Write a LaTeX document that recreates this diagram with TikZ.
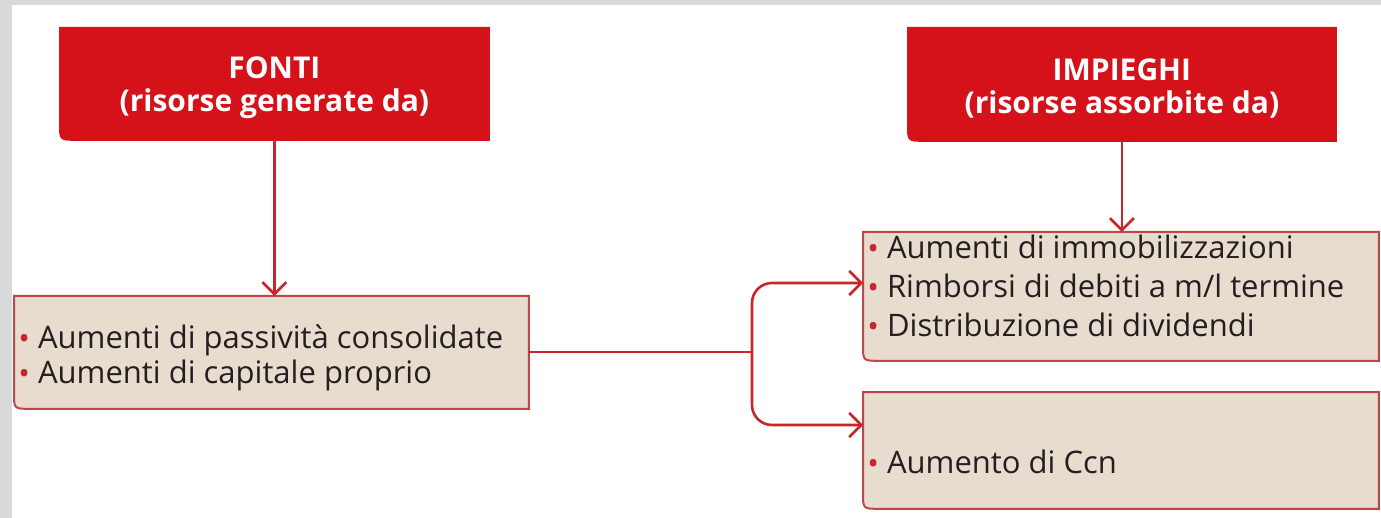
\documentclass[tikz,border=0pt]{standalone}
\usepackage{fontspec}
\setmainfont{Open Sans}
\usetikzlibrary{arrows.meta,backgrounds,calc}
\definecolor{hdr}{HTML}{D51219}
\definecolor{boxfill}{HTML}{E8DCCF}
\definecolor{boxline}{HTML}{BF4548}
\definecolor{connc}{HTML}{C8262C}
\definecolor{txt}{HTML}{231F20}
\definecolor{framec}{HTML}{D9D9D9}
\newcommand\bul{{\color{connc}\raisebox{-0.6pt}{\textbullet}}\hspace{4pt}}
\newcommand\blshape[3]{%
  \path[fill=#2,draw=#3,line width=1pt]
    (#1.north west) -- ($(#1.south west)+(0pt,8pt)$)
    .. controls (#1.south west) .. ($(#1.south west)+(8pt,0pt)$)
    -- (#1.south east) -- (#1.north east) -- cycle;}
\tikzset{
  boxshape/.style={anchor=north west, inner sep=0pt, draw=none},
  headtext/.style={text=white, font=\bfseries\fontsize{15}{16.5}\selectfont, align=center},
  itemtext/.style={text=txt, font=\fontsize{15.5}{17.5}\selectfont, align=left, inner sep=0pt},
  conn/.style={draw=connc, line width=1.3pt},
  arr/.style={conn, -{Straight Barb[length=6pt,width=12pt,line width=1.3pt]}}
}
\begin{document}
\begin{tikzpicture}[x=0.5pt,y=-0.5pt]
\useasboundingbox (0,0) rectangle (1381,518);
\fill[framec] (0,0) rectangle (1381,518);
\fill[white] (12,5) rectangle (1381,518);

\node[boxshape, minimum width=214pt, minimum height=55.5pt] (fonti) at (60,28) {};
\node[boxshape, minimum width=213.5pt, minimum height=56pt] (impieghi) at (908,28) {};
\node[boxshape, minimum width=257pt, minimum height=56pt] (lb) at (14,296) {};
\node[boxshape, minimum width=257.5pt, minimum height=64pt] (ru) at (863,232) {};
\node[boxshape, minimum width=257.5pt, minimum height=58pt] (rl) at (863,392) {};

\blshape{fonti}{hdr}{hdr}
\blshape{impieghi}{hdr}{hdr}
\blshape{lb}{boxfill}{boxline}
\blshape{ru}{boxfill}{boxline}
\blshape{rl}{boxfill}{boxline}

\node[headtext] (fontit) at ($(fonti.center)+(0,4)$) {FONTI\\(risorse generate da)};
\node[headtext] (impiegt) at ($(impieghi.center)+(0,4)$) {IMPIEGHI\\(risorse assorbite da)};

\node[itemtext, anchor=west] (lbt) at (18,358) {\bul Aumenti di passività consolidate\\\bul Aumenti di capitale proprio};
\node[itemtext, anchor=west, font=\fontsize{15.5}{19.5}\selectfont] (rut) at (867,286) {\bul Aumenti di immobilizzazioni\\\bul Rimborsi di debiti a m/l termine\\\bul Distribuzione di dividendi};
\node[itemtext, anchor=west] (rlt) at (867,462) {\bul Aumento di Ccn};

\coordinate (j) at (752,352);
\coordinate (a1) at (863,283);
\coordinate (a2) at (863,425);
\draw[arr] (fonti.south) -- (lb.north -| fonti.south);
\draw[arr] (impieghi.south) -- (ru.north -| impieghi.south);
\draw[conn] (lb.east |- j) -- (j);
\draw[arr, rounded corners=10pt] (j) |- (a1);
\draw[arr, rounded corners=10pt] (j) |- (a2);
\end{tikzpicture}
\end{document}
